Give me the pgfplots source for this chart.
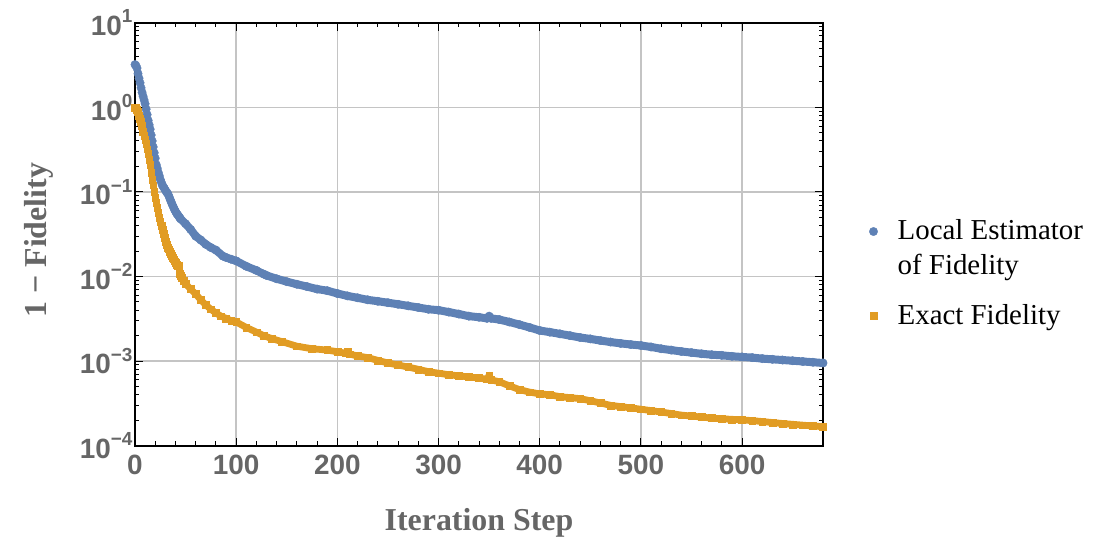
\documentclass[border=0pt]{standalone}
\usepackage{fontspec}
\setmainfont{Liberation Serif}
\newfontfamily\ticksf{Liberation Sans}
\usepackage{pgfplots}
\usepackage{pgfplotstable}
\pgfplotsset{compat=1.18}
\definecolor{mblue}{HTML}{5E81B5}
\definecolor{morange}{HTML}{E19C24}
\definecolor{tickgray}{HTML}{666666}
\definecolor{gridgray}{HTML}{C4C4C4}
\newcommand{\yexp}[1]{10\raisebox{12.5bp}{\fontsize{19}{19}\selectfont #1}}

\pgfplotstableread{
x y
0 3.2
1 3.1
2 2.9
3 2.5
4 2.2
5 1.95
6 1.7
7 1.5
8 1.35
9 1.22
10 1.1
11 0.95
12 0.82
13 0.7
14 0.62
15 0.55
16 0.47
17 0.40
18 0.34
19 0.29
20 0.25
21 0.21
22 0.19
23 0.17
24 0.155
25 0.14
26 0.13
27 0.12
28 0.115
29 0.11
30 0.105
31 0.1
32 0.097
33 0.092
34 0.086
35 0.08
36 0.075
37 0.07
38 0.066
39 0.062
40 0.059
41 0.056
42 0.054
43 0.052
44 0.05
45 0.048
50 0.042
55 0.036
60 0.030
65 0.027
70 0.024
75 0.022
80 0.0205
87 0.0174
90 0.0168
95 0.016
100 0.0153
110 0.0132
120 0.0118
127 0.0107
130 0.0103
140 0.0094
150 0.0087
160 0.0081
170 0.0076
180 0.0071
190 0.0068
200 0.0063
210 0.0059
220 0.0056
230 0.0053
240 0.0051
250 0.0049
260 0.0047
270 0.0045
280 0.0043
290 0.0041
300 0.0040
310 0.0038
320 0.0036
330 0.0034
340 0.0033
348 0.0032
350 0.0034
352 0.0032
360 0.0031
370 0.0029
380 0.0027
390 0.0025
400 0.0023
410 0.0022
420 0.0021
430 0.0020
440 0.0019
450 0.00183
460 0.00175
470 0.00168
480 0.00162
490 0.00157
500 0.00153
510 0.00147
520 0.0014
530 0.00135
540 0.0013
550 0.00126
560 0.00122
570 0.00119
580 0.00117
590 0.00114
600 0.00112
610 0.0011
620 0.00107
630 0.00105
640 0.00103
650 0.00101
660 0.00099
670 0.00097
680 0.00095
}\localest

\pgfplotstableread{
x y
0 1.0
1 0.98
2 0.93
3 0.88
4 0.8
5 0.74
6 0.68
7 0.6
8 0.52
9 0.46
10 0.41
11 0.37
12 0.32
13 0.28
14 0.24
15 0.21
16 0.17
17 0.14
18 0.12
19 0.1
20 0.085
21 0.074
22 0.065
23 0.057
24 0.05
25 0.044
26 0.04
27 0.036
28 0.032
29 0.029
30 0.026
31 0.024
32 0.022
33 0.021
34 0.0195
35 0.0185
36 0.0175
37 0.0167
38 0.016
39 0.0152
40 0.0145
41 0.0138
42 0.0134
43 0.0135
44 0.0108
45 0.0102
46 0.0097
48 0.0089
50 0.0082
55 0.0071
60 0.0062
65 0.0053
70 0.0046
75 0.0041
80 0.0037
85 0.0034
90 0.0032
95 0.0030
100 0.0029
110 0.0025
120 0.0022
127 0.0020
135 0.00185
145 0.0017
160 0.0015
175 0.0014
190 0.00135
200 0.00129
208 0.00124
210 0.00128
212 0.00121
220 0.00115
230 0.0011
240 0.00102
250 0.00095
260 0.0009
270 0.00085
280 0.0008
290 0.00075
300 0.00072
310 0.00069
320 0.00067
330 0.00065
340 0.00063
348 0.00061
350 0.00068
352 0.0006
360 0.00057
370 0.00051
380 0.00046
390 0.00043
400 0.00041
410 0.0004
420 0.00038
430 0.00037
440 0.00036
450 0.00034
460 0.00032
470 0.0003
480 0.00029
490 0.00028
500 0.00027
510 0.00026
520 0.00025
530 0.00024
540 0.00023
550 0.000224
560 0.000218
570 0.000212
580 0.000208
590 0.000205
600 0.000202
610 0.000198
620 0.000193
630 0.000188
640 0.000183
650 0.000179
660 0.000175
670 0.000171
680 0.000168
}\exactfid

\begin{document}
\begin{tikzpicture}
\path[use as bounding box] (-135bp,-98.3bp) rectangle (961bp,445.7bp);
\begin{axis}[
  scale only axis,
  width=688bp, height=423bp,
  xmin=0, xmax=680,
  ymode=log, ymin=1e-4, ymax=10,
  clip=false,
  xtick={0,100,200,300,400,500,600},
  xticklabels={0,100,200,300,400,500,600},
  minor x tick num=4,
  ytick={1e-4,1e-3,1e-2,1e-1,1,10},
  yticklabels={\yexp{−4},\yexp{−3},\yexp{−2},\yexp{−1},\yexp{0},\yexp{1}},
  minor ytick={2e-4,3e-4,4e-4,5e-4,6e-4,7e-4,8e-4,9e-4,
               2e-3,3e-3,4e-3,5e-3,6e-3,7e-3,8e-3,9e-3,
               2e-2,3e-2,4e-2,5e-2,6e-2,7e-2,8e-2,9e-2,
               0.2,0.3,0.4,0.5,0.6,0.7,0.8,0.9,
               2,3,4,5,6,7,8,9},
  tick align=inside,
  major tick length=8bp,
  minor tick length=4.5bp,
  every tick/.style={black, line width=1bp},
  axis line style={black, line width=1.6bp},
  grid=major,
  major grid style={gridgray, line width=1.4bp},
  tick label style={font=\ticksf\bfseries\fontsize{28}{28}\selectfont, text=tickgray},
  xticklabel style={yshift=-6bp},
  yticklabel style={xshift=1bp},
  xlabel={Iteration Step},
  ylabel={1 − Fidelity},
  label style={font=\bfseries\fontsize{32}{32}\selectfont, text=tickgray},
  xlabel style={at={(axis description cs:0.5,-0.1993)}, anchor=base},
  ylabel style={at={(axis description cs:-0.128,0.486)}, anchor=base},
  legend image code/.code={\draw[#1] plot coordinates {(0bp,8bp)};},
  legend style={draw=none, fill=none, inner sep=0pt,
    at={(axis description cs:1.067,0.54)}, anchor=north west,
    font=\fontsize{29}{35}\selectfont,
    cells={anchor=base west},
    row sep=59bp, column sep=18bp},
]
\addplot[forget plot, mblue, line width=8bp, line join=round, line cap=round,
  restrict x to domain=44:680] table[x=x,y=y] {\localest};
\addplot[only marks, mark=*, mark size=4.2bp, color=mblue, fill=mblue] table[x=x,y=y] {\localest};
\addlegendentry{\vtop{\hbox{Local Estimator}\hbox{of Fidelity}}}
\addplot[forget plot, morange, line width=6.8bp, line join=round, line cap=round,
  restrict x to domain=44:680] table[x=x,y=y] {\exactfid};
\addplot[only marks, mark=square*, mark size=3.4bp, color=morange, fill=morange] table[x=x,y=y] {\exactfid};
\addlegendentry{Exact Fidelity}
\end{axis}
\end{tikzpicture}
\end{document}
